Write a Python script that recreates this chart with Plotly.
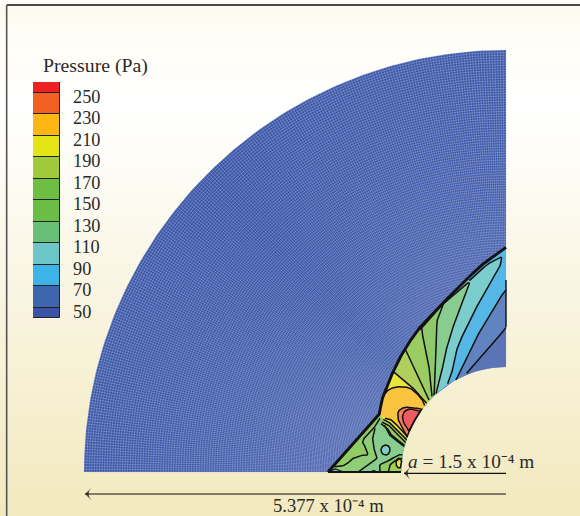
import numpy as np
import plotly.graph_objects as go

# Chart unit: 1266 units = 5.377e-4 m (outer radius); origin at the sphere centre.
R_OUT = 1266
R_IN = 315
X_RANGE = [-1518, 222]
Y_RANGE = [-132, 1416]

# colour key
KEY_EDGES = [40, 50, 70, 90, 110, 130, 150, 170, 190, 210, 230, 250, 260]
KEY_COLORS = ["#3A53A4", "#3E66AF", "#3CB4E7", "#6CC6C8", "#69BE78", "#6ABD45",
              "#6EBE44", "#9FCB3B", "#E3E416", "#FDB714", "#F26022", "#ED2024"]
KEY_LABELS = [250, 230, 210, 190, 170, 150, 130, 110, 90, 70, 50]

# page background
BG_Y = [1416, 1400, 1250, 1100, 800, 500, 200, -132]
BG_C = ["#FFFEFA", "#FDFBF0", "#FFFEF9", "#FFFFFF", "#FCFAEF", "#F9F4E0", "#F6EFCF", "#F2E9BE"]

# shock front, from the top right to the axis
SHOCK = [(0, 674), (-38, 648), (-78, 616), (-118, 578), (-158, 538), (-198, 498), (-238, 456),
         (-268, 421), (-300, 374), (-326, 328), (-343, 291), (-360, 251), (-372, 216), (-380, 174),
         (-528, 6), (-534, 0)]
KINK = 13

# pressure contours
C_70 = [(-118, 296), (-78, 341), (-33, 391), (0, 434)]
C_80 = [(-150, 275), (-143, 291), (-128, 321), (-98, 386), (-58, 456), (-23, 516), (0, 546)]
C_90 = [(-175, 265), (-163, 296), (-148, 366), (-118, 436), (-93, 486), (-53, 556), (-23, 606),
        (-13, 641), (-24, 640), (-58, 621), (-110, 574)]
C_110 = [(-210, 235), (-195, 290), (-183, 351), (-168, 406), (-148, 466), (-133, 506), (-110, 568),
         (-150, 536), (-190, 503)]
C_130 = [(-218, 231), (-215, 241), (-213, 326), (-208, 406), (-206, 456), (-188, 504), (-225, 462),
         (-258, 427)]
C_150 = [(-222, 227), (-228, 296), (-238, 346), (-248, 396), (-253, 434)]
C_170 = [(-231, 216), (-243, 241), (-258, 276), (-283, 326), (-301, 366)]
C_190 = [(-238, 206), (-253, 221), (-273, 246), (-303, 271), (-338, 301)]
C_210 = [(-244, 200), (-248, 211), (-263, 231), (-288, 251), (-323, 256), (-353, 246), (-371, 224)]
LOW_130 = [(-365, 141), (-353, 116), (-338, 101), (-318, 86), (-303, 76)]
LOW_150 = [(-375, 145), (-356, 131), (-348, 116), (-328, 98), (-303, 80)]
LOW_170 = [(-372, 150), (-353, 141), (-338, 124), (-318, 106), (-300, 88)]
LOW_190 = [(-368, 158), (-353, 151), (-338, 136), (-323, 121), (-303, 104), (-296, 94)]
LOW_210 = [(-363, 161), (-348, 158), (-333, 146), (-318, 131), (-303, 116), (-290, 101)]
C_230 = [(-323, 156), (-323, 181), (-303, 194), (-273, 191), (-250, 180), (-288, 106), (-313, 136)]
C_250 = [(-308, 151), (-308, 176), (-293, 188), (-273, 186), (-258, 178), (-283, 121)]
T_M = [(-393, 131), (-400, 101), (-393, 56), (-388, 41), (-418, 21), (-438, 6), (-440, 0)]
T_L = [(-378, 161), (-393, 136), (-418, 111), (-430, 91), (-423, 76), (-415, 53), (-428, 51),
       (-458, 41), (-483, 21), (-515, 16)]
T_N = [(-378, 0), (-378, 21), (-348, 36), (-323, 51), (-308, 51)]
T_N2 = [(-353, 0), (-348, 21), (-328, 36), (-308, 41)]
T_RING = [(-321, 42), (-313, 34), (-310, 20), (-321, 12), (-329, 20), (-329, 34)]
T_BLOB = [(-361, 81), (-351, 76), (-348, 66), (-352, 55), (-361, 51), (-371, 55), (-375, 66),
          (-371, 76)]
T_FOOT = [(-410, 0), (-398, 5), (-386, 0)]
T_TIP = [(-531, 2), (-515, 10), (-500, 6), (-490, 3), (-490, 0), (-534, 0)]
RIGHT_EDGE = [(0, 576), (0, 435)]
AXIS_LINE = [(-534, 0), (-315, 0)]
ARROW_A = [(0, -4), (-306, -4)]
ARROW_B = [(0, -66), (-1263, -66)]

HOLE = [(-100, 0), (-100, 100)]
C_SLATE0, C_SLATE1, C_BLUE, C_TEAL = "#5A74B5", "#6183BF", "#55B9E6", "#7DCCCB"
C_G1, C_G2, C_G3, C_G4 = "#88CC8C", "#8FC968", "#9ACB62", "#AFD05E"
C_Y, C_O, C_RO, C_R = "#EBE53B", "#FBC240", "#F2815A", "#EE5A60"


def sm(points, closed=False, n=6):
    """Round a traced path (Catmull-Rom through the traced points)."""
    p = [np.array(q, float) for q in points]
    m = len(p)
    out = []
    segs = m if closed else m - 1
    for i in range(segs):
        if closed:
            p0, p1, p2, p3 = p[(i - 1) % m], p[i], p[(i + 1) % m], p[(i + 2) % m]
        else:
            p0, p1, p2, p3 = p[max(i - 1, 0)], p[i], p[i + 1], p[min(i + 2, m - 1)]
        for t in np.linspace(0, 1, n, endpoint=False):
            out.append(tuple(0.5 * ((2 * p1) + (-p0 + p2) * t + (2 * p0 - 5 * p1 + 4 * p2 - p3) * t ** 2
                                    + (-p0 + 3 * p1 - 3 * p2 + p3) * t ** 3)))
    out.append(tuple(p[0] if closed else p[-1]))
    return out


def clamp(points, closed=True):
    """Keep traced points out of the sphere: project them radially onto its surface."""
    pts = list(points) + ([points[0]] if closed else [])
    xs, ys = [], []
    for (x0, y0), (x1, y1) in zip(pts[:-1], pts[1:]):
        t = np.linspace(0, 1, 5, endpoint=False)
        xs.extend(x0 + (x1 - x0) * t)
        ys.extend(y0 + (y1 - y0) * t)
    xs.append(pts[-1][0])
    ys.append(pts[-1][1])
    xs, ys = np.array(xs, float), np.array(ys, float)
    r = np.hypot(xs, ys)
    k = np.where(r < R_IN, R_IN / r, 1.0)
    return xs * k, ys * k


def shock_to_axis(i):
    return sm(SHOCK[i:KINK + 1]) + SHOCK[KINK + 1:]


def shock_to_kink(i):
    return sm(SHOCK[i:KINK + 1])


fig = go.Figure()

# page gradient
fig.add_trace(go.Heatmap(x=X_RANGE, y=BG_Y, z=[[i, i] for i in range(len(BG_Y))],
                         colorscale=[[i / (len(BG_C) - 1), c] for i, c in enumerate(BG_C)],
                         zsmooth="best", showscale=False, hoverinfo="skip"))

# domain
th = np.radians(np.linspace(90, 180, 180))
sx = np.r_[R_OUT * np.cos(th), R_IN * np.cos(th[::-1])]
sy = np.r_[R_OUT * np.sin(th), R_IN * np.sin(th[::-1])]
fig.add_trace(go.Scatter(x=sx, y=sy, fill="toself", fillcolor="#3A55A6", mode="lines",
                         line=dict(width=0), hoverinfo="skip", showlegend=False))

# computational mesh
mx, my = [], []
for r in np.linspace(R_IN, R_OUT, 125):
    t = np.radians(np.linspace(90, 180, 45))
    mx.extend(np.r_[r * np.cos(t), np.nan])
    my.extend(np.r_[r * np.sin(t), np.nan])
for a in np.radians(np.linspace(90, 180, 235)):
    mx.extend([R_IN * np.cos(a), R_OUT * np.cos(a), np.nan])
    my.extend([R_IN * np.sin(a), R_OUT * np.sin(a), np.nan])
fig.add_trace(go.Scatter(x=mx, y=my, mode="lines", line=dict(color="rgba(190,203,236,0.5)", width=0.6),
                         hoverinfo="skip", showlegend=False))


def fill(points, color):
    x, y = clamp(points)
    fig.add_trace(go.Scatter(x=x, y=y, fill="toself", fillcolor=color, mode="lines",
                             line=dict(width=0), opacity=0.97, hoverinfo="skip", showlegend=False))


def line(points, width=1.5, closed=False, color="#111"):
    x, y = clamp(points, closed)
    fig.add_trace(go.Scatter(x=x, y=y, mode="lines", line=dict(color=color, width=width),
                             hoverinfo="skip", showlegend=False))


fill(shock_to_axis(0) + HOLE + [(0, 315)], C_SLATE0)
fill(sm(C_70) + [(0, 674)] + shock_to_axis(1) + HOLE, C_SLATE1)
fill(sm(C_80) + [(0, 674)] + shock_to_axis(1) + HOLE, C_BLUE)
fill(sm(C_90) + shock_to_axis(3) + HOLE, C_TEAL)
fill(sm(C_110) + shock_to_axis(5) + HOLE, C_G1)
fill(sm(T_M) + [(-534, 0), (-528, 6), (-380, 174)], "#8FCC76")
fill(sm(T_L) + [(-380, 174)], "#8FCA62")
fill(sm(T_N) + [(-300, 0)], "#8ECA62")
fill(sm(T_N2) + [(-300, 0)], "#A3CF55")
fill(sm(T_RING, True), "#E5E040")
fill(sm(T_BLOB, True), "#7FCCC6")
fill(sm(T_FOOT), "#4CC0D8")
fill(T_TIP, "#6CC5CC")
fill(sm(C_130) + shock_to_kink(7) + sm(LOW_130) + [(-100, 100)], C_G2)
fill(sm(C_150) + shock_to_kink(7) + sm(LOW_150) + [(-100, 100)], C_G3)
fill(sm(C_170) + shock_to_kink(9) + sm(LOW_170) + [(-100, 100)], C_G4)
fill(sm(C_190) + shock_to_kink(10) + sm(LOW_190) + [(-100, 100)], C_Y)
fill(sm(C_210) + shock_to_kink(12) + sm(LOW_210) + [(-100, 100)], C_O)
fill(sm(C_230, True), C_RO)
fill(sm(C_250, True), C_R)

for c in (C_70, C_80, C_90, C_110, C_130, C_150, C_170, C_190, C_210,
          LOW_130, LOW_150, LOW_170, LOW_190, LOW_210, T_M, T_L, T_N, T_N2):
    line(sm(c))
for c in (C_230, C_250, T_RING, T_BLOB):
    line(sm(c, True), closed=True)
line(T_TIP, 1.2, closed=True)
line(sm(T_FOOT), 1.0)
line(RIGHT_EDGE, 1.4)
line(shock_to_axis(0), 2.9)
line(AXIS_LINE, 1.8)

# dimension arrows
for arrow in (ARROW_A, ARROW_B):
    xs, ys = zip(*arrow)
    fig.add_trace(go.Scatter(x=xs, y=ys, mode="lines+markers",
                             line=dict(color="#111", width=1.1),
                             marker=dict(symbol=["line-ew", "arrow-wide"], size=[1, 9], angle=[0, -90],
                                         color="#111", line=dict(width=0)),
                             hoverinfo="skip", showlegend=False))

# colour key
fig.add_trace(go.Bar(x=[0] * len(KEY_COLORS), y=np.diff(KEY_EDGES), base=KEY_EDGES[:-1], width=1,
                     marker=dict(color=KEY_COLORS, line=dict(color="#222", width=1)),
                     xaxis="x2", yaxis="y2", hoverinfo="skip", showlegend=False))

FONT = dict(family="Liberation Serif", size=18.3, color="#2a2a2a")
ann = [dict(xref="paper", yref="paper", x=40.5 / 580, y=1 - 65 / 516, text="Pressure (Pa)",
            showarrow=False, xanchor="left", yanchor="middle",
            font=dict(family="Liberation Serif", size=19.8, color="#2a2a2a"))]
for v in KEY_LABELS:
    ann.append(dict(xref="paper", yref="y2", x=71 / 580, y=v, yshift=-4, text=str(v),
                    showarrow=False, xanchor="left", yanchor="middle", font=FONT))
ann += [
    dict(x=-300, y=33, text="<i>a</i> = 1.5 x 10⁻⁴ m", showarrow=False,
         xanchor="left", yanchor="middle", font=dict(family="Liberation Serif", size=19.3, color="#2a2a2a")),
    dict(x=-534, y=-99, text="5.377 x 10⁻⁴ m", showarrow=False,
         xanchor="center", yanchor="middle", font=dict(family="Liberation Serif", size=18.6, color="#2a2a2a")),
]

frame = [
    dict(type="line", x0=-1498, x1=222, y0=1401, y1=1401, line=dict(color="#111", width=1.4)),
    dict(type="line", x0=-1498, x1=-1498, y0=1401, y1=-132, line=dict(color="#555", width=1.6)),
]

hidden = dict(visible=False, showgrid=False, zeroline=False, fixedrange=True)
fig.update_layout(
    width=580, height=516, margin=dict(l=0, r=0, t=0, b=0), autosize=False,
    paper_bgcolor="white", plot_bgcolor="white", showlegend=False, bargap=0,
    xaxis=dict(range=X_RANGE, domain=[0, 1], **hidden),
    yaxis=dict(range=Y_RANGE, domain=[0, 1], **hidden),
    xaxis2=dict(range=[-0.5, 0.5], domain=[33 / 580, 60 / 580], anchor="y2", **hidden),
    yaxis2=dict(range=[KEY_EDGES[0], KEY_EDGES[-1]], domain=[1 - 318.3 / 516, 1 - 82 / 516], anchor="x2", **hidden),
    annotations=ann, shapes=frame,
)
fig.write_html("out.html", config={"displayModeBar": False},
               post_script="document.body.style.margin='0';document.documentElement.style.overflow='hidden';")
